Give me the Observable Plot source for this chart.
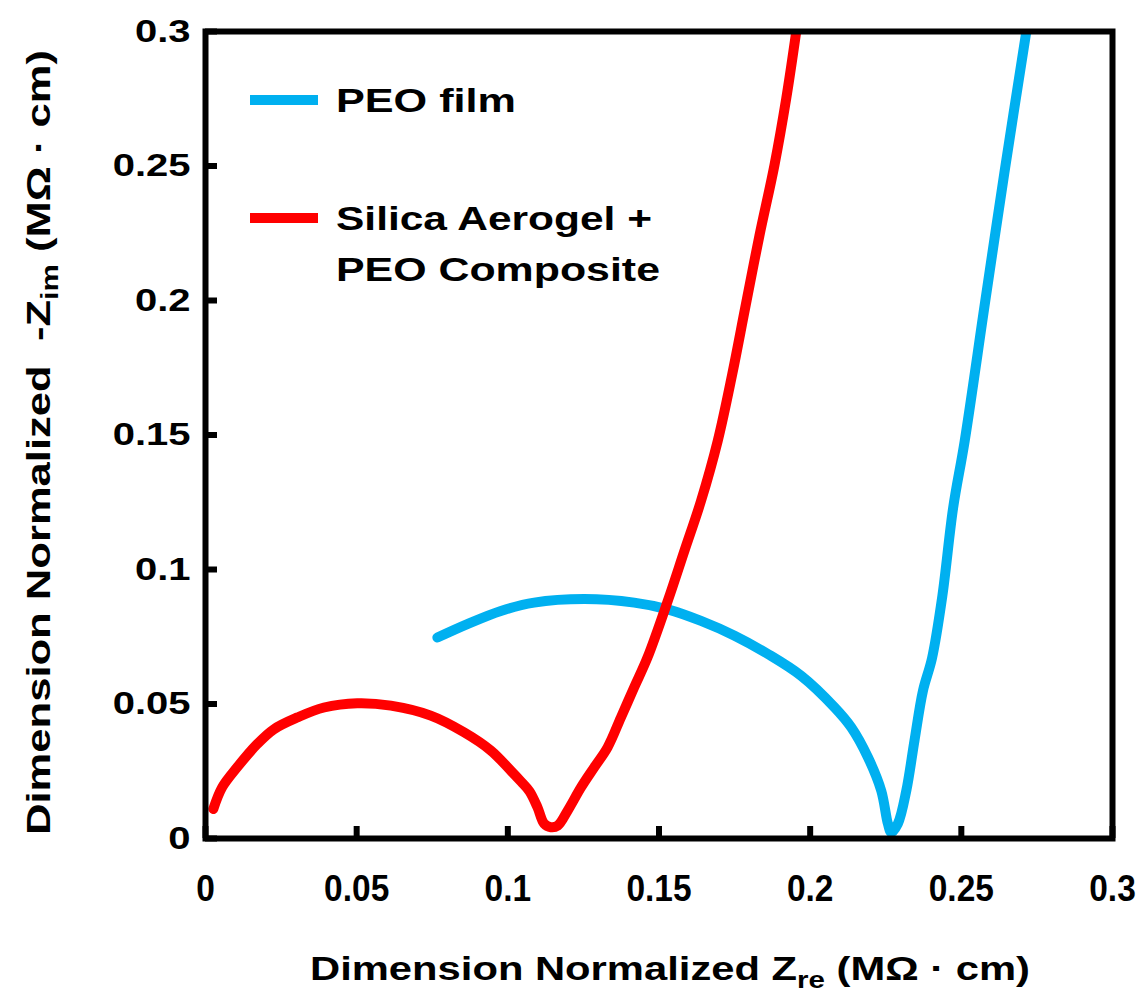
<!DOCTYPE html>
<html><head><meta charset="utf-8">
<script src="https://cdn.jsdelivr.net/npm/d3@7"></script>
<script src="https://cdn.jsdelivr.net/npm/@observablehq/plot@0.6"></script>
<style>body{margin:0;background:#fff} svg{display:block}</style>
</head><body><div id="chart"></div>
<script>
// Series: PEO film
const peoX = [0.0767,0.0866,0.0977,0.1087,0.1253,0.1418,0.1529,0.1639,0.1750,0.1860,0.1970,0.2081,0.2136,0.2191,0.2235,0.2257,0.2268,0.2290,0.2318,0.2345,0.2373,0.2403,0.2437,0.2473,0.2511,0.2579,0.2642,0.2715];
const peoY = [0.0747,0.0797,0.0846,0.0877,0.0890,0.0877,0.0852,0.0809,0.0754,0.0686,0.0605,0.0487,0.0413,0.0302,0.0178,0.0055,0.0023,0.0055,0.0178,0.0364,0.0549,0.0670,0.0900,0.1230,0.1477,0.1997,0.2472,0.3000];
// Series: Silica Aerogel + PEO Composite
const compX = [0.0026,0.0055,0.0105,0.0171,0.0226,0.0304,0.0392,0.0502,0.0613,0.0745,0.0855,0.0944,0.1010,0.1045,0.1072,0.1098,0.1120,0.1142,0.1165,0.1198,0.1242,0.1286,0.1330,0.1374,0.1418,0.1462,0.1529,0.1584,0.1639,0.1694,0.1742,0.1785,0.1832,0.1882,0.1921,0.1954];
const compY = [0.0110,0.0190,0.0265,0.0351,0.0406,0.0450,0.0487,0.0503,0.0494,0.0457,0.0395,0.0327,0.0252,0.0210,0.0175,0.0116,0.0055,0.0042,0.0048,0.0104,0.0190,0.0265,0.0339,0.0450,0.0562,0.0673,0.0883,0.1069,0.1255,0.1477,0.1725,0.1972,0.2240,0.2504,0.2752,0.3000];
const seriesNames = ["PEO film", "Silica Aerogel + PEO Composite"];
const legendLines = [["PEO film"], ["Silica Aerogel +", "PEO Composite"]];
const seriesColors = ["#00B0F0", "#FF0000"];
const xTicks = [0, 0.05, 0.1, 0.15, 0.2, 0.25, 0.3];
const yTicks = [0, 0.05, 0.1, 0.15, 0.2, 0.25, 0.3];
const xTitle = ["Dimension Normalized Z", "re", " (MΩ · cm)"];
const yTitle = ["Dimension Normalized  -Z", "im", " (MΩ · cm)"];

const peo = peoX.map((x, i) => ({x, y: peoY[i]}));
const comp = compX.map((x, i) => ({x, y: compY[i]}));

const W = 1144, H = 993, mL = 205, mR = 32, mT = 31, mB = 155;
const pw = W - mL - mR, ph = H - mT - mB;
const font = "'Liberation Sans', Arial, sans-serif";

const svg = Plot.plot({
  width: W, height: H,
  marginLeft: mL, marginRight: mR, marginTop: mT, marginBottom: mB,
  x: {domain: [0, 0.3]},
  y: {domain: [0, 0.3]},
  style: {fontFamily: font, background: "white", color: "black"},
  marks: [
    Plot.line(peo, {x: "x", y: "y", stroke: seriesColors[0], strokeWidth: 10, strokeLinecap: "round", strokeLinejoin: "round", curve: "catmull-rom", clip: true}),
    Plot.line(comp, {x: "x", y: "y", stroke: seriesColors[1], strokeWidth: 10, strokeLinecap: "round", strokeLinejoin: "round", curve: "catmull-rom", clip: true}),
    Plot.tickX(xTicks, {x: d => d, insetTop: ph - 12, stroke: "black", strokeWidth: 6}),
    Plot.tickY(yTicks, {y: d => d, insetRight: pw - 12, stroke: "black", strokeWidth: 6}),
    Plot.frame({stroke: "black", strokeWidth: 6}),
    Plot.axisX(xTicks, {tickSize: 0, tickPadding: 37, fontSize: 36, fontWeight: "bold", tickFormat: d => String(d), label: null}),
    Plot.axisY(yTicks, {tickSize: 0, tickPadding: 15, fontSize: 32, fontWeight: "bold", tickFormat: d => String(d), label: null})
  ]
});
document.getElementById("chart").appendChild(svg);

const s = d3.select(svg);
// stretch tick labels
s.selectAll('[aria-label="y-axis tick label"] text').each(function() {
  const l = this.getComputedTextLength();
  this.setAttribute("textLength", l * 1.25);
  this.setAttribute("lengthAdjust", "spacingAndGlyphs");
});
s.selectAll('[aria-label="x-axis tick label"] text').each(function() {
  const l = this.getComputedTextLength();
  this.setAttribute("textLength", l * 0.93);
  this.setAttribute("lengthAdjust", "spacingAndGlyphs");
});

// legend
const lg = s.append("g").attr("font-family", font).attr("font-weight", "bold")
  .attr("font-size", 33).attr("text-anchor", "start").attr("fill", "black");
const legendRows = [{y: 100, lens: [180]}, {y: 218, lens: [316, 324]}];
legendRows.forEach((r, i) => {
  lg.append("line").attr("x1", 250).attr("x2", 318).attr("y1", r.y).attr("y2", r.y)
    .attr("stroke", seriesColors[i]).attr("stroke-width", 10);
  legendLines[i].forEach((t, j) => {
    lg.append("text").attr("x", 336).attr("y", r.y + 12 + j * 51).text(t)
      .attr("textLength", r.lens[j]).attr("lengthAdjust", "spacingAndGlyphs");
  });
});

// axis titles
const xt = s.append("text").attr("x", 310).attr("y", 980).attr("text-anchor", "start")
  .attr("font-family", font).attr("font-weight", "bold").attr("font-size", 34)
  .attr("textLength", 720).attr("lengthAdjust", "spacingAndGlyphs");
xt.append("tspan").text(xTitle[0]);
xt.append("tspan").attr("font-size", 24).attr("dy", 8).text(xTitle[1]);
xt.append("tspan").attr("dy", -8).text(xTitle[2]);

const yt = s.append("text").attr("transform", "translate(50,835) rotate(-90)").attr("text-anchor", "start")
  .attr("font-family", font).attr("font-weight", "bold").attr("font-size", 34)
  .attr("textLength", 785).attr("lengthAdjust", "spacingAndGlyphs");
yt.append("tspan").text(yTitle[0]);
yt.append("tspan").attr("font-size", 24).attr("dy", 8).text(yTitle[1]);
yt.append("tspan").attr("dy", -8).text(yTitle[2]);
</script>
</body></html>
